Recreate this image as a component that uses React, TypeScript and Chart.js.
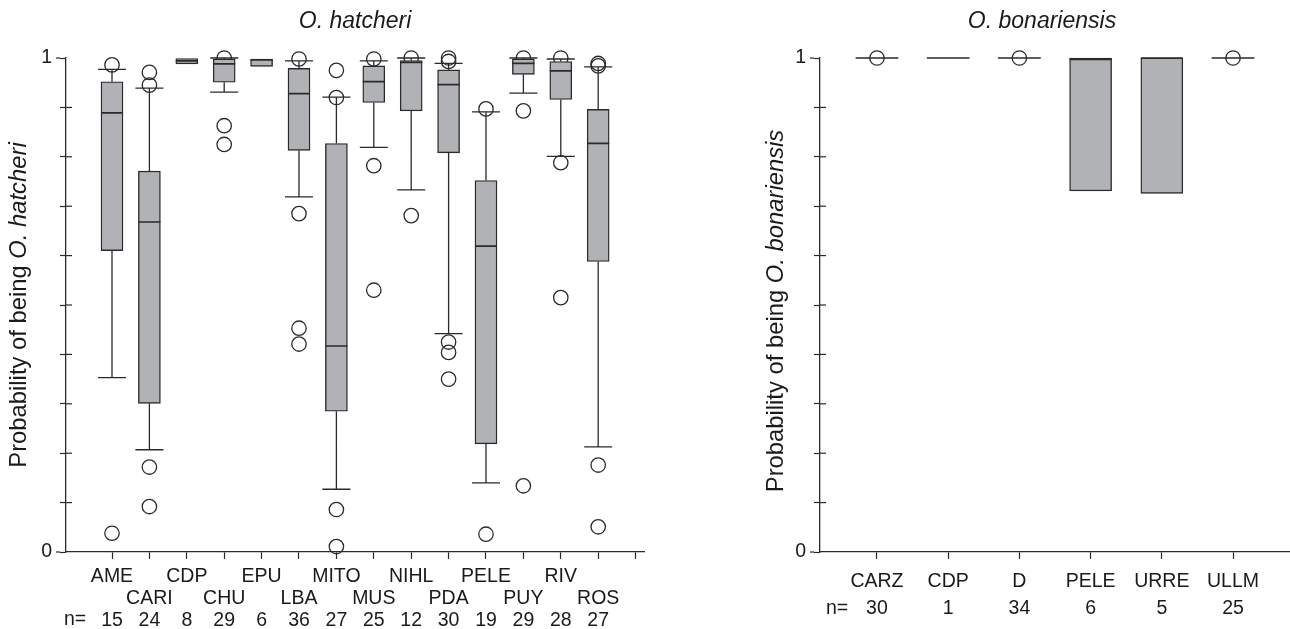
import React, { useEffect, useRef } from "react";
import { Chart, registerables } from "chart.js";

Chart.register(...registerables);

// ---------------- O. hatcheri panel ----------------
const hatCategories = ["AME", "CARI", "CDP", "CHU", "EPU", "LBA", "MITO", "MUS", "NIHL", "PDA", "PELE", "PUY", "RIV", "ROS"];
const hatN = [15, 24, 8, 29, 6, 36, 27, 25, 12, 30, 19, 29, 28, 27];
const hatWhiskerLow = [0.353, 0.207, 0.988, 0.931, 0.983, 0.719, 0.127, 0.819, 0.733, 0.442, 0.14, 0.929, 0.801, 0.213];
const hatQ1 = [0.61, 0.301, 0.988, 0.951, 0.983, 0.813, 0.285, 0.91, 0.893, 0.808, 0.219, 0.967, 0.916, 0.588];
const hatMedian = [0.889, 0.668, 0.994, 0.988, 0.996, 0.928, 0.417, 0.952, 0.991, 0.946, 0.619, 0.989, 0.974, 0.827];
const hatQ3 = [0.952, 0.771, 0.999, 0.998, 0.998, 0.979, 0.827, 0.984, 0.995, 0.976, 0.752, 0.998, 0.993, 0.896];
const hatWhiskerHigh = [0.977, 0.939, 0.999, 1.0, 0.998, 0.994, 0.921, 0.994, 1.0, 0.989, 0.891, 1.0, 0.998, 0.982];
const hatOutliers = [
  [0.986, 0.038],
  [0.971, 0.945, 0.172, 0.092],
  [],
  [1.0, 0.863, 0.825],
  [],
  [0.998, 0.685, 0.453, 0.421],
  [0.975, 0.92, 0.086, 0.011],
  [0.998, 0.782, 0.53],
  [1.0, 0.681],
  [1.0, 0.993, 0.425, 0.404, 0.35],
  [0.897, 0.036],
  [1.0, 0.893, 0.134],
  [1.0, 0.788, 0.515],
  [0.989, 0.984, 0.176, 0.051],
];
const hatXTicks = [0, 1, 2, 3, 4, 5, 6, 7, 8, 9, 10, 11, 12, 13, 14];

// ---------------- O. bonariensis panel ----------------
const bonCategories = ["CARZ", "CDP", "D", "PELE", "URRE", "ULLM"];
const bonN = [30, 1, 34, 6, 5, 25];
const bonWhiskerLow = [1, 1, 1, 0.731, 0.726, 1];
const bonQ1 = [1, 1, 1, 0.731, 0.726, 1];
const bonMedian = [1, 1, 1, 0.997, 1, 1];
const bonQ3 = [1, 1, 1, 1, 1, 1];
const bonWhiskerHigh = [1, 1, 1, 1, 1, 1];
const bonOutliers = [[1], [], [1], [], [], [1]];
const bonXTicks = [0, 1, 2, 3, 4, 5];

const yTicks = [0, 0.1, 0.2, 0.3, 0.4, 0.5, 0.6, 0.7, 0.8, 0.9, 1];

const FONT = "'Liberation Sans', Arial, Helvetica, sans-serif";
const INK = "#2a2a2a";
const BOX_FILL = "#b1b2b6";

const decorPlugin = {
  id: "decor",
  afterDraw(chart: any, _args: any, o: any) {
    const ctx = chart.ctx;
    const { left, top, bottom } = chart.chartArea;
    const ys = chart.scales.y;
    ctx.save();
    // inner half of the minor y ticks (they cross the axis); majors reach further out
    ctx.strokeStyle = INK;
    ctx.lineWidth = 1.2;
    for (const v of yTicks) {
      const py = ys.getPixelForValue(v);
      ctx.beginPath();
      if (v === 0 || v === 1) {
        ctx.moveTo(left - 10, py);
        ctx.lineTo(left - 6, py);
      } else {
        ctx.moveTo(left, py);
        ctx.lineTo(left + 6, py);
      }
      ctx.stroke();
    }
    ctx.fillStyle = "#1a1a1a";
    ctx.textBaseline = "middle";
    // panel title
    ctx.font = `italic 23px ${FONT}`;
    ctx.textAlign = "center";
    ctx.fillText(o.title, o.titleX, 22);
    // n= label
    ctx.font = `19.5px ${FONT}`;
    ctx.fillText("n=", o.nX, o.nY);
    // y title with italic species name
    ctx.translate(o.yTitleX, (top + bottom) / 2 + o.yTitleShift);
    ctx.rotate(-Math.PI / 2);
    const f1 = `23.8px ${FONT}`;
    const f2 = `italic 23.8px ${FONT}`;
    ctx.font = f1;
    const w1 = ctx.measureText(o.yTitleA).width;
    ctx.font = f2;
    const w2 = ctx.measureText(o.yTitleB).width;
    const x0 = -(w1 + w2) / 2;
    ctx.textAlign = "left";
    ctx.font = f1;
    ctx.fillText(o.yTitleA, x0, 0);
    ctx.font = f2;
    ctx.fillText(o.yTitleB, x0 + w1, 0);
    ctx.restore();
  },
};

type Panel = {
  cats: string[];
  n: number[];
  wLo: number[];
  q1: number[];
  med: number[];
  q3: number[];
  wHi: number[];
  outliers: number[][];
  xTicks: number[];
  xMin: number;
  xMax: number;
  capHalf: number;
  boxHalf: number;
  boxPx: number;
  twoRows: boolean;
  lineHeight: number;
  xTickPad: number;
  yAxisWidth: number;
  padRight: number;
  circleFill: string;
  decor: any;
};

function makeConfig(p: Panel): any {
  const idx = p.cats.map((_, i) => i);
  const gap = (i: number) => ({ x: i, y: null });
  const boxes = idx.filter((i) => p.q3[i] > p.q1[i]).map((i) => ({ x: i, y: [p.q1[i], p.q3[i]] }));
  const whiskers: any[] = [];
  idx.forEach((i) => {
    if (p.wHi[i] > p.q3[i]) {
      whiskers.push({ x: i, y: p.q3[i] }, { x: i, y: p.wHi[i] }, gap(i));
      whiskers.push({ x: i - p.capHalf, y: p.wHi[i] }, { x: i + p.capHalf, y: p.wHi[i] }, gap(i));
    }
    if (p.wLo[i] < p.q1[i]) {
      whiskers.push({ x: i, y: p.q1[i] }, { x: i, y: p.wLo[i] }, gap(i));
      whiskers.push({ x: i - p.capHalf, y: p.wLo[i] }, { x: i + p.capHalf, y: p.wLo[i] }, gap(i));
    }
  });
  const medians: any[] = [];
  idx.forEach((i) => {
    const h = p.q3[i] > p.q1[i] ? p.boxHalf : p.capHalf;
    medians.push({ x: i - h, y: p.med[i] }, { x: i + h, y: p.med[i] }, gap(i));
  });
  const outs: any[] = [];
  p.outliers.forEach((arr, i) => arr.forEach((v) => outs.push({ x: i, y: v })));

  const label = (v: number) => {
    const i = Math.round(v);
    if (i < 0 || i >= p.cats.length) return "";
    if (p.twoRows) {
      return i % 2 === 0 ? [p.cats[i], "", String(p.n[i])] : ["", p.cats[i], String(p.n[i])];
    }
    return [p.cats[i], String(p.n[i])];
  };

  return {
    type: "bar",
    data: {
      datasets: [
        {
          type: "bar",
          data: boxes,
          backgroundColor: BOX_FILL,
          borderColor: INK,
          borderWidth: 1.4,
          borderSkipped: false,
          barThickness: p.boxPx,
          order: 1,
          clip: false,
        },
        {
          type: "line",
          data: medians,
          borderColor: INK,
          borderWidth: 1.7,
          pointRadius: 0,
          spanGaps: false,
          order: 0,
          clip: false,
        },
        {
          type: "scatter",
          data: outs,
          pointStyle: "circle",
          pointRadius: 7.2,
          pointBorderWidth: 1.3,
          pointBorderColor: INK,
          pointBackgroundColor: p.circleFill,
          showLine: false,
          order: 2,
          clip: false,
        },
        {
          type: "line",
          data: whiskers,
          borderColor: INK,
          borderWidth: 1.3,
          pointRadius: 0,
          spanGaps: false,
          order: 3,
          clip: false,
        },
      ],
    },
    options: {
      responsive: false,
      animation: false,
      events: [],
      layout: { autoPadding: false, padding: { top: 58, right: p.padRight, left: 0, bottom: 0 } },
      plugins: {
        legend: { display: false },
        tooltip: { enabled: false },
        title: { display: false },
        decor: p.decor,
      },
      scales: {
        x: {
          type: "linear",
          min: p.xMin,
          max: p.xMax,
          offset: false,
          grid: {
            display: true,
            drawOnChartArea: false,
            drawTicks: true,
            tickLength: 7,
            tickColor: INK,
            tickWidth: 1.2,
            offset: false,
          },
          border: { display: true, color: INK, width: 1.3 },
          afterBuildTicks: (s: any) => {
            s.ticks = p.xTicks.map((v) => ({ value: v }));
          },
          afterFit: (s: any) => {
            s.height = 77;
          },
          ticks: {
            autoSkip: false,
            maxRotation: 0,
            minRotation: 0,
            padding: p.xTickPad,
            color: "#1a1a1a",
            font: { family: FONT, size: 19.5, lineHeight: p.lineHeight },
            callback: (v: number) => label(v),
          },
        },
        y: {
          type: "linear",
          min: 0,
          max: 1,
          grid: {
            display: true,
            drawOnChartArea: false,
            drawTicks: true,
            tickLength: 6,
            tickColor: INK,
            tickWidth: 1.2,
          },
          border: { display: true, color: INK, width: 1.3 },
          afterBuildTicks: (s: any) => {
            s.ticks = yTicks.map((v) => ({ value: v }));
          },
          afterFit: (s: any) => {
            s.width = p.yAxisWidth;
          },
          ticks: {
            autoSkip: false,
            padding: 8,
            color: "#1a1a1a",
            font: { family: FONT, size: 19.5 },
            callback: (v: number) => (Math.abs(v) < 1e-9 ? "0" : Math.abs(v - 1) < 1e-9 ? "1" : ""),
          },
        },
      },
    },
    plugins: [decorPlugin],
  };
}

const hatPanel: Panel = {
  cats: hatCategories,
  n: hatN,
  wLo: hatWhiskerLow,
  q1: hatQ1,
  med: hatMedian,
  q3: hatQ3,
  wHi: hatWhiskerHigh,
  outliers: hatOutliers,
  xTicks: hatXTicks,
  xMin: -1.23,
  xMax: 14.225,
  capHalf: 0.375,
  boxHalf: 0.295,
  boxPx: 22,
  twoRows: true,
  lineHeight: 22 / 19.5,
  xTickPad: 7,
  yAxisWidth: 66,
  padRight: 16,
  circleFill: "rgba(255,255,255,0)",
  decor: {
    title: "O. hatcheri",
    titleX: 355,
    nX: 75,
    nY: 620,
    yTitleX: 19,
    yTitleShift: 0,
    yTitleA: "Probability of being ",
    yTitleB: "O. hatcheri",
  },
};

const bonPanel: Panel = {
  cats: bonCategories,
  n: bonN,
  wLo: bonWhiskerLow,
  q1: bonQ1,
  med: bonMedian,
  q3: bonQ3,
  wHi: bonWhiskerHigh,
  outliers: bonOutliers,
  xTicks: bonXTicks,
  xMin: -0.8,
  xMax: 5.8,
  capHalf: 0.3,
  boxHalf: 0.295,
  boxPx: 42,
  twoRows: false,
  lineHeight: 27 / 19.5,
  xTickPad: 9,
  yAxisWidth: 160,
  padRight: 0,
  circleFill: "#ffffff",
  decor: {
    title: "O. bonariensis",
    titleX: 382,
    nX: 177,
    nY: 609,
    yTitleX: 116,
    yTitleShift: 6,
    yTitleA: "Probability of being ",
    yTitleB: "O. bonariensis",
  },
};

function BoxPanel({ panel, width, left }: { panel: Panel; width: number; left: number }) {
  const ref = useRef<HTMLCanvasElement | null>(null);
  useEffect(() => {
    if (!ref.current) return;
    const chart = new Chart(ref.current, makeConfig(panel));
    return () => chart.destroy();
  }, [panel]);
  return (
    <canvas
      ref={ref}
      width={width}
      height={629}
      style={{ position: "absolute", left, top: 0, width, height: 629 }}
    />
  );
}

export default function App() {
  return (
    <div style={{ position: "absolute", left: 0, top: 0, width: 1290, height: 629, background: "#fff", overflow: "hidden" }}>
      <BoxPanel panel={hatPanel} width={660} left={0} />
      <BoxPanel panel={bonPanel} width={630} left={660} />
    </div>
  );
}
